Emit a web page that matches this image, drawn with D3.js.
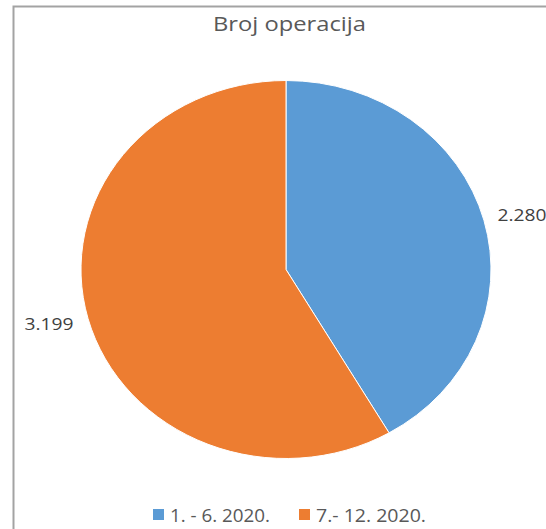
<!DOCTYPE html>
<html>
<head>
<meta charset="utf-8">
<script src="https://cdn.jsdelivr.net/npm/d3@7"></script>
<style>
  html, body { margin: 0; padding: 0; background: #ffffff; overflow: hidden; }
  svg { display: block; }
</style>
</head>
<body>
<svg id="chart" width="546" height="529"></svg>
<script>
const title = "Broj operacija";
const categories = ["1. - 6. 2020.", "7.- 12. 2020."];
const values = [2280, 3199];
const valueLabels = ["2.280", "3.199"];
const colors = ["#5B9BD5", "#ED7D31"];

const svg = d3.select("#chart");
const W = 546, H = 529;
const font = "'Open Sans', 'Noto Sans', 'DejaVu Sans', sans-serif";

// chart frame
svg.append("rect").attr("x", 0).attr("y", 0).attr("width", W).attr("height", H).attr("fill", "#ffffff");
svg.append("path")
  .attr("d", `M13.5,${H + 2} L13.5,6.5 L${W + 2},6.5`)
  .attr("fill", "none").attr("stroke", "#a3a3a3").attr("stroke-width", 2);

// title
svg.append("text")
  .attr("x", 289.5).attr("y", 31)
  .attr("text-anchor", "middle")
  .attr("font-family", font).attr("font-size", 20)
  .attr("fill", "#595959")
  .attr("textLength", 153).attr("lengthAdjust", "spacingAndGlyphs")
  .text(title);

// pie
const cx = 286, cy = 269.5, rx = 205, ry = 189;
const pie = d3.pie().sort(null).value(d => d)(values);
const arc = d3.arc().innerRadius(0).outerRadius(ry);

const g = svg.append("g").attr("transform", `translate(${cx},${cy}) scale(${rx / ry},1)`);
g.selectAll("path").data(pie).join("path")
  .attr("d", arc)
  .attr("fill", (d, i) => colors[i])
  .attr("stroke", "#ffffff").attr("stroke-width", 1)
  .attr("vector-effect", "non-scaling-stroke");

// data labels
const labelWidths = [49, 49];
svg.selectAll("text.lbl").data(pie).join("text")
  .attr("class", "lbl")
  .attr("x", d => {
    const a = (d.startAngle + d.endAngle) / 2;
    return cx + (rx + 14) * Math.sin(a) + (Math.sin(a) >= 0 ? 0 : -1);
  })
  .attr("y", d => {
    const a = (d.startAngle + d.endAngle) / 2;
    return cy - (ry + 20) * Math.cos(a) + 6.4;
  })
  .attr("text-anchor", d => Math.sin((d.startAngle + d.endAngle) / 2) >= 0 ? "start" : "end")
  .attr("font-family", font).attr("font-size", 17)
  .attr("fill", "#404040")
  .attr("textLength", (d, i) => labelWidths[i]).attr("lengthAdjust", "spacingAndGlyphs")
  .text((d, i) => valueLabels[i]);

// legend
const legendTextWidths = [100, 110];
const sq = 11, gapSq = 6, gapItem = 29;
const totalW = d3.sum(legendTextWidths) + categories.length * (sq + gapSq) + (categories.length - 1) * gapItem;
let lx = 289.5 - totalW / 2;
const legend = svg.append("g");
categories.forEach((c, i) => {
  legend.append("rect")
    .attr("x", lx).attr("y", 509).attr("width", sq).attr("height", sq)
    .attr("fill", colors[i]);
  legend.append("text")
    .attr("x", lx + sq + gapSq).attr("y", 521.7)
    .attr("font-family", font).attr("font-size", 17.5)
    .attr("fill", "#595959")
    .attr("textLength", legendTextWidths[i]).attr("lengthAdjust", "spacingAndGlyphs")
    .text(c);
  lx += sq + gapSq + legendTextWidths[i] + gapItem;
});
</script>
</body>
</html>
